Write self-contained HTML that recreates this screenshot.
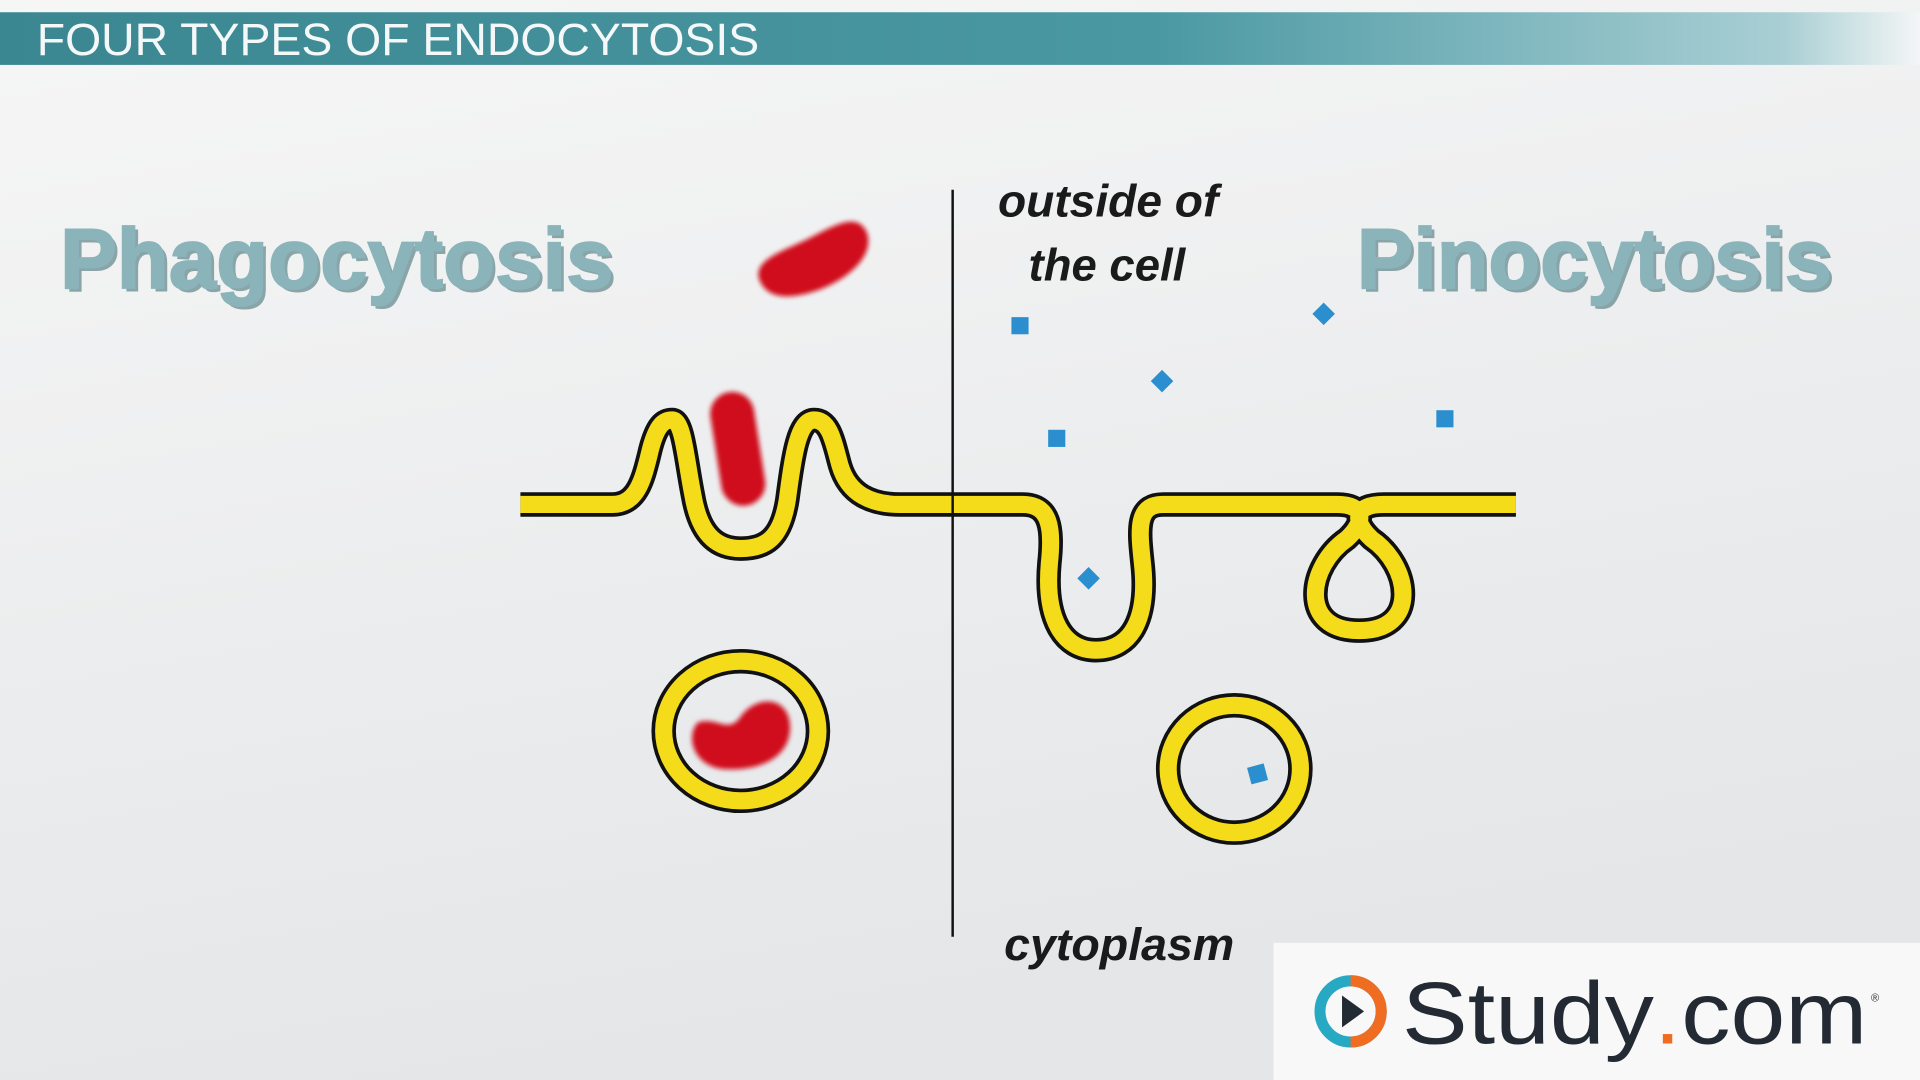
<!DOCTYPE html>
<html><head><meta charset="utf-8"><style>
html,body{margin:0;padding:0;width:1920px;height:1080px;overflow:hidden;background:#eceeef}
svg{display:block}
</style></head><body>
<svg width="1920" height="1080" viewBox="0 0 1568 882" preserveAspectRatio="none" xmlns="http://www.w3.org/2000/svg">
<defs>
<linearGradient id="bg" x1="0" y1="0" x2="0.3" y2="1">
<stop offset="0" stop-color="#f6f6f6"/><stop offset="1" stop-color="#e4e6e8"/></linearGradient>
<linearGradient id="hd" x1="0" y1="0" x2="1" y2="0">
<stop offset="0" stop-color="#3b8791"/><stop offset="0.6" stop-color="#4a98a2"/><stop offset="0.93" stop-color="#a9cfd4"/><stop offset="1" stop-color="#f4f6f6"/></linearGradient>
<filter id="bl" x="-50%" y="-50%" width="200%" height="200%"><feGaussianBlur stdDeviation="2"/></filter>
</defs>
<rect width="1568" height="882" fill="url(#bg)"/>
<rect x="0" y="10" width="1568" height="43" fill="url(#hd)"/>
<text x="30" y="45" font-family="Liberation Sans Narrow, Liberation Sans, sans-serif" font-size="37" fill="#f4f8f8" textLength="590" lengthAdjust="spacingAndGlyphs">FOUR TYPES OF ENDOCYTOSIS</text>

<g font-family="Liberation Sans, sans-serif" font-weight="bold" font-size="70">
<text x="52" y="238" fill="#5f858a" textLength="452" lengthAdjust="spacingAndGlyphs" opacity="0.7">Phagocytosis</text>
<text x="49" y="235" fill="#8ab4ba" stroke="#8ab4ba" stroke-width="1.5" textLength="452" lengthAdjust="spacingAndGlyphs">Phagocytosis</text>
<text x="1111" y="238" fill="#5f858a" textLength="388" lengthAdjust="spacingAndGlyphs" opacity="0.7">Pinocytosis</text>
<text x="1108" y="235" fill="#8ab4ba" stroke="#8ab4ba" stroke-width="1.5" textLength="388" lengthAdjust="spacingAndGlyphs">Pinocytosis</text>
</g>
<g font-family="Liberation Sans, sans-serif" font-weight="bold" font-style="italic" font-size="37" fill="#1a1a1a">
<text x="815" y="177" textLength="180" lengthAdjust="spacingAndGlyphs">outside of</text>
<text x="840" y="229" textLength="128" lengthAdjust="spacingAndGlyphs">the cell</text>
<text x="820" y="784" textLength="188" lengthAdjust="spacingAndGlyphs">cytoplasm</text>
</g>

<line x1="778" y1="155" x2="778" y2="765" stroke="#111" stroke-width="2"/>

<g fill="#d0111b" filter="url(#bl)">
<path d="M620 228 C615 212 640 205 660 195 C680 185 700 172 708 190 C715 210 690 230 665 238 C640 246 625 242 620 228Z"/>
<line x1="598" y1="338" x2="607" y2="395" stroke="#d0111b" stroke-width="36" stroke-linecap="round"/>
<path d="M570 590 C585 585 595 600 605 585 C620 565 648 570 645 598 C642 622 615 630 590 628 C565 625 560 600 570 590Z"/>
</g>

<g fill="none" stroke-linecap="butt" stroke-linejoin="round">
<path id="p" d="M425 412 L500 412 C520 412 525 392 530 372 C536 345 543 343 549 343 C558 343 560 375 566 405 C572 440 588 448 605 448 C625 448 638 440 643 408 C648 370 652 343 665 343 C678 343 681 362 686 380 C693 404 712 412 735 412 L835 412 C858 412 860 432 857 460 C853 505 868 531 895 531 C924 531 938 505 933 460 C930 432 928 412 950 412 L1092 412 C1114 412 1116 425 1100 440 C1068 462 1060 515 1110 515 C1160 515 1152 462 1120 440 C1104 425 1106 412 1130 412 L1238 412" stroke="#111" stroke-width="20"/>
<path d="M425 412 L500 412 C520 412 525 392 530 372 C536 345 543 343 549 343 C558 343 560 375 566 405 C572 440 588 448 605 448 C625 448 638 440 643 408 C648 370 652 343 665 343 C678 343 681 362 686 380 C693 404 712 412 735 412 L835 412 C858 412 860 432 857 460 C853 505 868 531 895 531 C924 531 938 505 933 460 C930 432 928 412 950 412 L1092 412 C1114 412 1116 425 1100 440 C1068 462 1060 515 1110 515 C1160 515 1152 462 1120 440 C1104 425 1106 412 1130 412 L1238 412" stroke="#f5dc1a" stroke-width="14"/>
<ellipse cx="605" cy="597" rx="63" ry="57" stroke="#111" stroke-width="20"/>
<ellipse cx="605" cy="597" rx="63" ry="57" stroke="#f5dc1a" stroke-width="14"/>
<ellipse cx="1008" cy="628" rx="54" ry="52" stroke="#111" stroke-width="20"/>
<ellipse cx="1008" cy="628" rx="54" ry="52" stroke="#f5dc1a" stroke-width="14"/>
</g>
<line x1="778" y1="402" x2="778" y2="422" stroke="#111" stroke-width="2"/>

<g fill="#2b8fcf">
<rect x="826" y="259" width="14" height="14"/>
<rect x="856" y="351" width="14" height="14"/>
<rect x="1173" y="335" width="14" height="14"/>
<rect x="1074" y="250" width="13" height="13" transform="rotate(45 1081 257)"/>
<rect x="942" y="305" width="13" height="13" transform="rotate(45 949 312)"/>
<rect x="882" y="466" width="13" height="13" transform="rotate(45 889 473)"/>
<rect x="1020" y="625" width="14" height="14" transform="rotate(-15 1027 632)"/>
</g>

<rect x="1040" y="770" width="528" height="112" fill="#f8f8f8"/>
<circle cx="1103" cy="826" r="25" fill="none" stroke="#27a9c4" stroke-width="9"/>
<path d="M1103 801 A25 25 0 0 1 1103 851" fill="none" stroke="#ef6c21" stroke-width="9"/>
<path d="M1096 813 L1114 826 L1096 839Z" fill="#222a33"/>
<text x="1145" y="852" font-family="Liberation Sans, sans-serif" font-size="72" fill="#232a33" textLength="380" lengthAdjust="spacingAndGlyphs">Study<tspan fill="#ef6c21">.</tspan>com</text>
<text x="1528" y="818" font-family="Liberation Sans, sans-serif" font-size="9" fill="#232a33">®</text>
</svg>
</body></html>
